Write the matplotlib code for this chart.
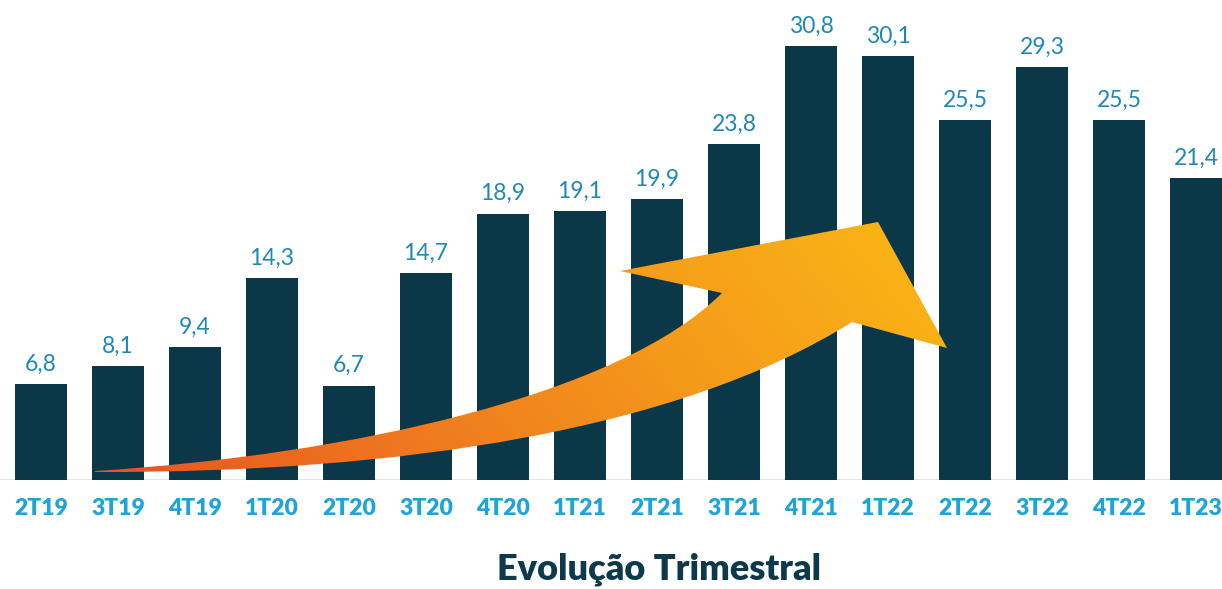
import numpy as np
import matplotlib.pyplot as plt
from matplotlib.path import Path
from matplotlib.patches import PathPatch
from matplotlib.colors import LinearSegmentedColormap

# =========================================
# Data
# =========================================
quarters = ["2T19", "3T19", "4T19", "1T20", "2T20", "3T20", "4T20", "1T21",
            "2T21", "3T21", "4T21", "1T22", "2T22", "3T22", "4T22", "1T23"]
values = [6.8, 8.1, 9.4, 14.3, 6.7, 14.7, 18.9, 19.1,
          19.9, 23.8, 30.8, 30.1, 25.5, 29.3, 25.5, 21.4]
value_labels = [f"{v:.1f}".replace(".", ",") for v in values]

title = "Evolução Trimestral"

bar_color = "#0b3849"
label_color = "#1f88b7"
tick_color = "#1ea4d8"
title_color = "#0c3a4a"

plt.rcParams["font.family"] = ["Lato", "DejaVu Sans"]

W, H = 1222, 589
fig = plt.figure(figsize=(W / 100, H / 100), dpi=100)

# =========================================
# Bars
# =========================================
ax = fig.add_axes([0, 109 / H, 1, 480 / H])
x = np.arange(len(values))
ax.bar(x, values, width=0.68, color=bar_color, zorder=2)
ax.axhline(0, color="#cfe8f4", lw=2, zorder=1)

for xi, v, lab in zip(x, values, value_labels):
    ax.annotate(lab, (xi, v), xytext=(0, 9.5), textcoords="offset points",
                ha="center", va="baseline", fontsize=16.5, color=label_color)

ax.set_xlim(-41 / 77, (W - 41) / 77)
ax.set_ylim(0, 480 / 14.1)
ax.set_xticks(x)
ax.set_xticklabels(quarters, fontsize=16.5, fontweight="heavy", color=tick_color)
ax.tick_params(axis="x", length=0, pad=13)
ax.set_yticks([])
for s in ax.spines.values():
    s.set_visible(False)

fig.text(659 / W, 1 - 569 / H, title, ha="center", va="center",
         fontsize=26, fontweight="heavy", color=title_color)

# =========================================
# Decorative growth arrow (pixel overlay)
# =========================================
ov = fig.add_axes([0, 0, 1, 1])
ov.set_xlim(0, W)
ov.set_ylim(H, 0)
ov.axis("off")
ov.patch.set_alpha(0)

verts = [
    (95, 471),
    (350, 455), (620, 395), (722, 293),
    (620, 271),
    (878, 222),
    (947, 348),
    (852, 322),
    (680, 430), (400, 473), (95, 472),
    (95, 471),
]
codes = [Path.MOVETO,
         Path.CURVE4, Path.CURVE4, Path.CURVE4,
         Path.LINETO, Path.LINETO, Path.LINETO, Path.LINETO,
         Path.CURVE4, Path.CURVE4, Path.CURVE4,
         Path.CLOSEPOLY]
arrow = PathPatch(Path(verts, codes), facecolor="none", edgecolor="none")
ov.add_patch(arrow)

cmap = LinearSegmentedColormap.from_list(
    "grow", ["#e8521f", "#ef7a1f", "#f59d1a", "#fbb915"])
gx, gy = np.meshgrid(np.linspace(0, 1, 300), np.linspace(0, 1, 150))
grad = 0.8 * gx + 0.2 * (1 - gy)
img = ov.imshow(grad, cmap=cmap, extent=[90, 950, 475, 215],
                aspect="auto", zorder=3, interpolation="bilinear")
img.set_clip_path(arrow)
ov.set_xlim(0, W)
ov.set_ylim(H, 0)

fig.savefig("out.png", dpi=100)
